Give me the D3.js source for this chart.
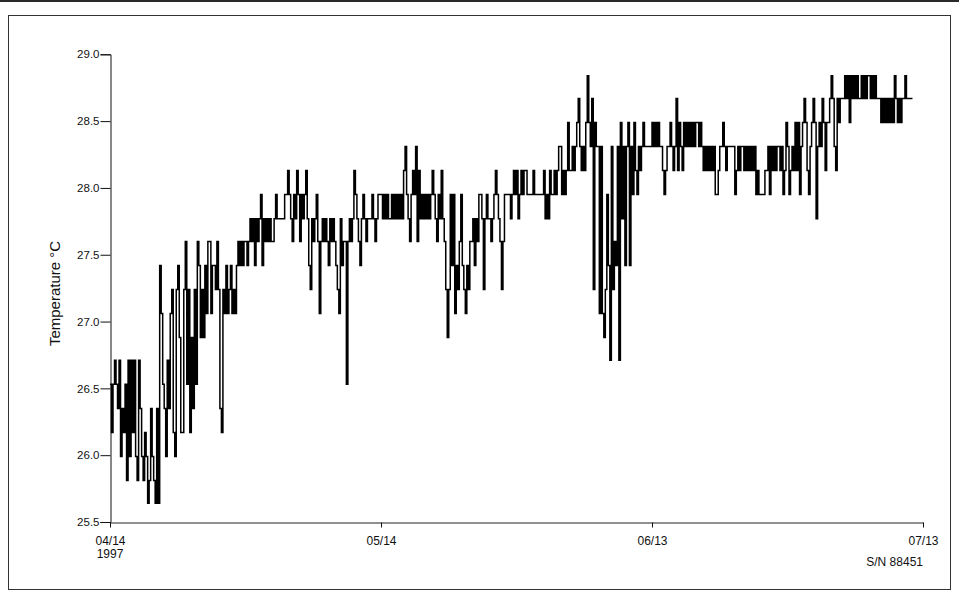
<!DOCTYPE html>
<html>
<head>
<meta charset="utf-8">
<script src="https://cdn.jsdelivr.net/npm/d3@7"></script>
<style>
  html, body { margin: 0; padding: 0; background: #fff; }
  svg { display: block; }
</style>
</head>
<body>
<svg id="chart" width="959" height="603"></svg>
<script>
// Logger resolution: the discrete temperature steps the sensor reports (°C)
const levels = [25.64, 25.81, 25.99, 26.17, 26.35, 26.53, 26.71, 26.88, 27.06, 27.24,
                27.42, 27.60, 27.77, 27.95, 28.13, 28.31, 28.49, 28.67, 28.84];

// One string per day, six readings per day (every 4 h), each letter is a step index (a = levels[0])
const dailyReadings = [
  "fdfgfe", "gcedfb", "gcgdgc", "bgecbd", "cabecb", "aeakif", "ecgeij", "dcjkhd", "djlfjd", "hejflk",
  "hjhkil", "likkjl", "jedjik", "ijkiji", "klklkl", "lklmlm", "kmlmnk", "mlmlml", "lmnmmm", "mmnnon",
  "mlnmon", "lnmnom", "kjmlmn", "lilmlm", "lkmlml", "kjimkl", "lflmlm", "onmlkm", "nmlmmm", "nmlmnn",
  "nmnmnm", "mnmnmn", "mnmopn", "mlnonp", "lomnmn", "mnmnon", "mlnmom", "ljhjnk", "nikjln", "kjikjl",
  "lmkmln", "nmjmnm", "mlmnon", "mljlnn", "nnmnon", "omnono", "onnnno", "nnnnnn", "omnmon", "nonopp",
  "nonoqo", "opopqr", "popoqs", "qprjqp", "pipihj", "nkgpjl", "kpgqmp", "kpqkpn", "qonpop", "qppppp",
  "qpqpqp", "ponopp", "qpopro", "qpoqpq", "pqpqpq", "qpqpop", "opopop", "nnoppq", "popppp", "pnopop",
  "popopo", "popnon", "nnnoop", "npopop", "popnoq", "pnopoq", "oqnpqr", "qonpqr", "qmpqpr", "qoqqrs",
  "rporqr", "rrsrsq", "srsrsr", "rsrsrs", "srsrsr", "rrqrqr", "qrqrqs", "rqrqrr", "srrrr"
];

const startDate = new Date(Date.UTC(1997, 3, 14));
const endDate = new Date(Date.UTC(1997, 6, 13));
const xTickDates = [new Date(Date.UTC(1997, 3, 14)), new Date(Date.UTC(1997, 4, 14)),
                    new Date(Date.UTC(1997, 5, 13)), new Date(Date.UTC(1997, 6, 13))];
const xTickLabels = ["04/14", "05/14", "06/13", "07/13"];
const yTicks = [25.5, 26.0, 26.5, 27.0, 27.5, 28.0, 28.5, 29.0];
const yTitle = "Temperature °C";
const yearLabel = "1997";
const serialLabel = "S/N 88451";

const stepMs = 4 * 3600 * 1000;
const codes = dailyReadings.join("");
const series = Array.from(codes, (c, i) => ({
  t: new Date(startDate.getTime() + i * stepMs),
  v: levels[c.charCodeAt(0) - 97]
}));
// hold the final reading until the next sample time
series.push({ t: new Date(startDate.getTime() + codes.length * stepMs), v: series[series.length - 1].v });

const svg = d3.select("#chart");

// page frame
svg.append("rect").attr("x", 0).attr("y", 0).attr("width", 959).attr("height", 2).attr("fill", "#2a2a2a");
svg.append("rect").attr("x", 8.5).attr("y", 15.5).attr("width", 942).attr("height", 574)
  .attr("fill", "none").attr("stroke", "#333").attr("stroke-width", 1);

const x = d3.scaleUtc().domain([startDate, endDate]).range([110, 923]);
const y = d3.scaleLinear().domain([25.5, 29.0]).range([522, 54.3]);

const font = "'Liberation Sans', Arial, sans-serif";

// y axis
const gy = svg.append("g").attr("transform", "translate(110.5,0)")
  .call(d3.axisLeft(y).tickValues(yTicks).tickSize(10).tickPadding(1).tickFormat(d3.format(".1f")));
gy.select(".domain").attr("stroke", "#111");
gy.selectAll(".tick line").attr("stroke", "#111");
gy.selectAll(".tick text").attr("font-family", font).attr("font-size", 11.5).attr("fill", "#111");

// x axis
const gx = svg.append("g").attr("transform", "translate(0,522.5)")
  .call(d3.axisBottom(x).tickValues(xTickDates).tickSize(5).tickSizeOuter(0)
    .tickFormat((d, i) => xTickLabels[i]));
gx.select(".domain").attr("stroke", "#222");
gx.selectAll(".tick line").attr("stroke", "#111");
gx.selectAll(".tick text").attr("font-family", font).attr("font-size", 12).attr("fill", "#111")
  .attr("y", 14).attr("dy", "0.71em");

svg.append("text").attr("x", x(xTickDates[0])).attr("y", 558)
  .attr("text-anchor", "middle").attr("font-family", font).attr("font-size", 12).attr("fill", "#111")
  .text(yearLabel);
svg.append("text").attr("x", 923).attr("y", 566)
  .attr("text-anchor", "end").attr("font-family", font).attr("font-size", 12).attr("fill", "#111")
  .text(serialLabel);

// y title
svg.append("text").attr("transform", "translate(59.5,293.5) rotate(-90)")
  .attr("text-anchor", "middle").attr("font-family", font).attr("font-size", 15).attr("fill", "#111")
  .text(yTitle);

// temperature trace
const line = d3.line().x(d => x(d.t)).y(d => y(d.v)).curve(d3.curveStepAfter);
svg.append("path").datum(series).attr("d", line)
  .attr("fill", "none").attr("stroke", "#000").attr("stroke-width", 1.5);
</script>
</body>
</html>
